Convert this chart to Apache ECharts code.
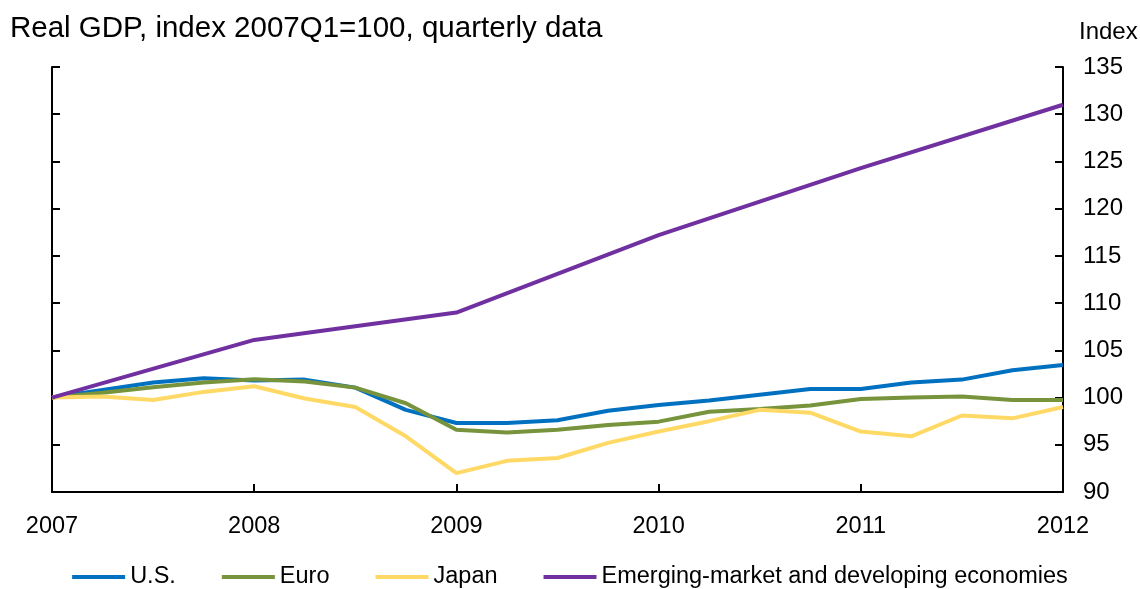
<!DOCTYPE html>
<html>
<head>
<meta charset="utf-8">
<script src="https://cdn.jsdelivr.net/npm/echarts@6/dist/echarts.min.js"></script>
<style>
  html, body { margin: 0; padding: 0; background: #fff; }
</style>
</head>
<body>
<div id="chart" style="width: 1140px; height: 589px;"></div>
<script>
// quarterly positions, 2007Q1 .. 2012Q1
const quarters = [2007, 2007.25, 2007.5, 2007.75, 2008, 2008.25, 2008.5, 2008.75,
  2009, 2009.25, 2009.5, 2009.75, 2010, 2010.25, 2010.5, 2010.75,
  2011, 2011.25, 2011.5, 2011.75, 2012];
// annual points for emerging economies
const years = [2007, 2008, 2009, 2010, 2011, 2012];

const usGdp = [100, 100.8, 101.6, 102.05, 101.8, 101.9, 101.05, 98.7, 97.3, 97.3, 97.6,
  98.6, 99.2, 99.7, 100.3, 100.9, 100.9, 101.6, 101.9, 102.9, 103.45];
const euroGdp = [100, 100.5, 101.1, 101.6, 101.95, 101.7, 101.05, 99.4, 96.6, 96.3, 96.6,
  97.1, 97.45, 98.5, 98.8, 99.15, 99.85, 100.0, 100.1, 99.75, 99.75];
const japanGdp = [100, 100.1, 99.75, 100.6, 101.2, 99.9, 99.0, 95.9, 92.0, 93.3, 93.6,
  95.2, 96.4, 97.5, 98.7, 98.4, 96.4, 95.9, 98.1, 97.8, 99.0];
const emergingGdp = [100, 106.1, 109.0, 117.2, 124.3, 131.0];

const yTicks = [90, 95, 100, 105, 110, 115, 120, 125, 130, 135];

const font = 'Liberation Sans, Arial, sans-serif';

const pairs = (xs, ys) => xs.map((x, i) => [x, ys[i]]);

const chart = echarts.init(document.getElementById('chart'));

// left and right axes share the scale, only the right one has labels
const yAxisBase = {
  type: 'value',
  min: yTicks[0],
  max: yTicks[yTicks.length - 1],
  interval: 5,
  splitLine: { show: false },
  axisLine: { show: true, lineStyle: { color: '#000', width: 2 } },
  axisTick: { show: true, inside: true, length: 8, lineStyle: { color: '#000', width: 2 } }
};

const option = {
  animation: false,
  backgroundColor: '#fff',
  textStyle: { fontFamily: font },
  title: [
    {
      text: 'Real GDP, index 2007Q1=100, quarterly data',
      left: 5, top: 9,
      textStyle: { fontFamily: font, fontSize: 29.5, fontWeight: 'normal', color: '#000' }
    },
    {
      text: 'Index',
      left: 1074, top: 15,
      textStyle: { fontFamily: font, fontSize: 24, fontWeight: 'normal', color: '#000' }
    }
  ],
  grid: { left: 52, right: 77, top: 67, bottom: 97, outerBoundsMode: 'none' },
  legend: {
    top: 560,
    left: 'center',
    itemWidth: 53,
    itemHeight: 4,
    itemGap: 46,
    icon: 'rect',
    textStyle: { fontFamily: font, fontSize: 23.5, color: '#000' },
    data: ['U.S.', 'Euro', 'Japan', 'Emerging-market and developing economies']
  },
  xAxis: {
    type: 'value',
    min: 2007,
    max: 2012,
    interval: 1,
    splitLine: { show: false },
    axisLine: { lineStyle: { color: '#000', width: 2 } },
    axisTick: { inside: true, length: 8, lineStyle: { color: '#000', width: 2 } },
    axisLabel: {
      margin: 23,
      fontSize: 23.5,
      color: '#000',
      fontFamily: font,
      formatter: v => String(v)
    }
  },
  yAxis: [
    Object.assign({}, yAxisBase, {
      position: 'right',
      axisLabel: { margin: 20, fontSize: 24, color: '#000', fontFamily: font }
    }),
    Object.assign({}, yAxisBase, {
      position: 'left',
      axisLabel: { show: false }
    })
  ],
  series: [
    {
      name: 'U.S.', type: 'line', yAxisIndex: 0, showSymbol: false,
      color: '#0070C0', lineStyle: { width: 4 },
      data: pairs(quarters, usGdp)
    },
    {
      name: 'Euro', type: 'line', yAxisIndex: 0, showSymbol: false,
      color: '#77933C', lineStyle: { width: 4 },
      data: pairs(quarters, euroGdp)
    },
    {
      name: 'Japan', type: 'line', yAxisIndex: 0, showSymbol: false,
      color: '#FFD966', lineStyle: { width: 4 },
      data: pairs(quarters, japanGdp)
    },
    {
      name: 'Emerging-market and developing economies', type: 'line', yAxisIndex: 0, showSymbol: false,
      color: '#7030A0', lineStyle: { width: 4 },
      data: pairs(years, emergingGdp)
    }
  ]
};

chart.setOption(option);
</script>
</body>
</html>
